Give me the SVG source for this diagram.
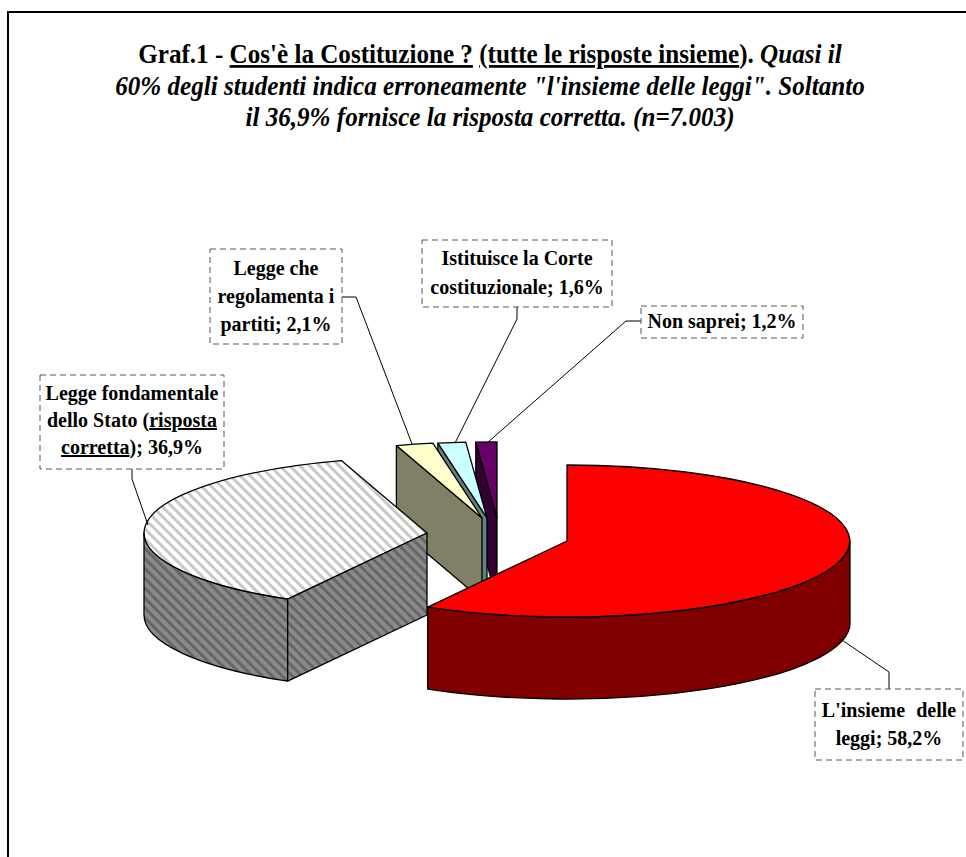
<svg xmlns="http://www.w3.org/2000/svg" width="966" height="857" viewBox="0 0 966 857">
<style>
.t{font-family:"Liberation Serif","Times New Roman",serif;font-weight:bold;fill:#000}
.title{font-size:27px;text-anchor:middle}
.lbl{font-size:20px;text-anchor:middle}
.box{fill:#fff;stroke:#555;stroke-width:1;stroke-dasharray:6 4}
.edge{stroke:#000;stroke-width:1.3;stroke-linejoin:round}
.lead{fill:none;stroke:#000;stroke-width:1}
</style>
<defs>
<pattern id="hatchTop" patternUnits="userSpaceOnUse" width="7" height="7" patternTransform="rotate(-45)">
<rect width="7" height="7" fill="#ffffff"/>
<rect width="3" height="7" fill="#c8c8c8"/>
</pattern>
<pattern id="hatchSide" patternUnits="userSpaceOnUse" width="7" height="7" patternTransform="rotate(-45)">
<rect width="7" height="7" fill="#8a8a8a"/>
<rect width="3" height="7" fill="#666666"/>
</pattern>
</defs>
<rect width="966" height="857" fill="#fff"/>
<path d="M8,870 V12 H980" fill="none" stroke="#000" stroke-width="2"/>

<g id="title" transform="translate(490,0) scale(0.93,1)">
<text class="t title" x="0" y="63">Graf.1 - <tspan text-decoration="underline">Cos'è la Costituzione ?</tspan> <tspan text-decoration="underline">(tutte le risposte insieme</tspan>). <tspan font-style="italic">Quasi il</tspan></text>
<text class="t title" x="0" y="95" font-style="italic">60% degli studenti indica erroneamente "l'insieme delle leggi". Soltanto</text>
<text class="t title" x="0" y="126" font-style="italic">il 36,9% fornisce la risposta corretta. (n=7.003)</text>
</g>

<g id="slice-non-saprei">
<path class="edge" d="M475.8,442.2 L497,518 L497,600 L475.8,524.2 Z" fill="#330033"/>
<path class="edge" d="M497,518 L475.8,442.2 A283,76 0 0,1 497,442 Z" fill="#660066"/>
</g>
<g id="slice-istituisce">
<path class="edge" d="M437.9,443.2 L487,518 L487,600 L437.9,525.2 Z" fill="#668080"/>
<path class="edge" d="M487,518 L437.9,443.2 A283,76 0 0,1 465.8,442.2 Z" fill="#ccffff"/>
</g>
<g id="slice-legge-partiti">
<path class="edge" d="M396.4,445.6 L482,518 L482,600 L396.4,527.6 Z" fill="#808066"/>
<path class="edge" d="M482,518 L396.4,445.6 A283,76 0 0,1 432.9,443.2 Z" fill="#ffffcc"/>
</g>
<g id="slice-legge-fondamentale">
<path class="edge" d="M427,533 L341.4,460.6 A283,76 0 0,0 287.7,599.2 Z" fill="url(#hatchTop)"/>
<path class="edge" d="M144,533 A283,76 0 0,0 287.7,599.2 L287.7,681.2 A283,76 0 0,1 144,615 Z" fill="url(#hatchSide)"/>
<path class="edge" d="M427,533 L287.7,599.2 L287.7,681.2 L427,615 Z" fill="url(#hatchSide)"/>
</g>
<g id="slice-insieme-leggi">
<path class="edge" d="M850,541 A283,76 0 0,1 427.7,607.2 L427.7,689.2 A283,76 0 0,0 850,623 Z" fill="#800000"/>
<path class="edge" d="M567,541 L567,465 A283,76 0 1,1 427.7,607.2 Z" fill="#ff0000"/>
</g>

<g id="connectors">
<polyline class="lead" points="132,469 132,479 148,525"/>
<polyline class="lead" points="342,297 356,297 412,444"/>
<polyline class="lead" points="517,307 517,319 455,443"/>
<polyline class="lead" points="641,321 626,321 487,443"/>
<polyline class="lead" points="889,689 889,672 839,638"/>
</g>

<g id="label-legge-fondamentale">
<rect class="box" x="40" y="375" width="184" height="94"/>
<text class="t lbl" x="132" y="400">Legge fondamentale</text>
<text class="t lbl" x="132" y="427">dello Stato (<tspan text-decoration="underline">risposta</tspan></text>
<text class="t lbl" x="132" y="454"><tspan text-decoration="underline">corretta</tspan>); 36,9%</text>
</g>
<g id="label-legge-partiti">
<rect class="box" x="210" y="249" width="132" height="95"/>
<text class="t lbl" x="276" y="275">Legge che</text>
<text class="t lbl" x="276" y="303">regolamenta i</text>
<text class="t lbl" x="276" y="331">partiti; 2,1%</text>
</g>
<g id="label-istituisce">
<rect class="box" x="422" y="240" width="190" height="67"/>
<text class="t lbl" x="517" y="265">Istituisce la Corte</text>
<text class="t lbl" x="517" y="294">costituzionale; 1,6%</text>
</g>
<g id="label-non-saprei">
<rect class="box" x="641" y="306" width="162" height="32"/>
<text class="t lbl" x="722" y="328">Non saprei; 1,2%</text>
</g>
<g id="label-insieme">
<rect class="box" x="815" y="689" width="148" height="71"/>
<text class="t lbl" x="889" y="717" word-spacing="6">L'insieme delle</text>
<text class="t lbl" x="889" y="745">leggi; 58,2%</text>
</g>
</svg>
